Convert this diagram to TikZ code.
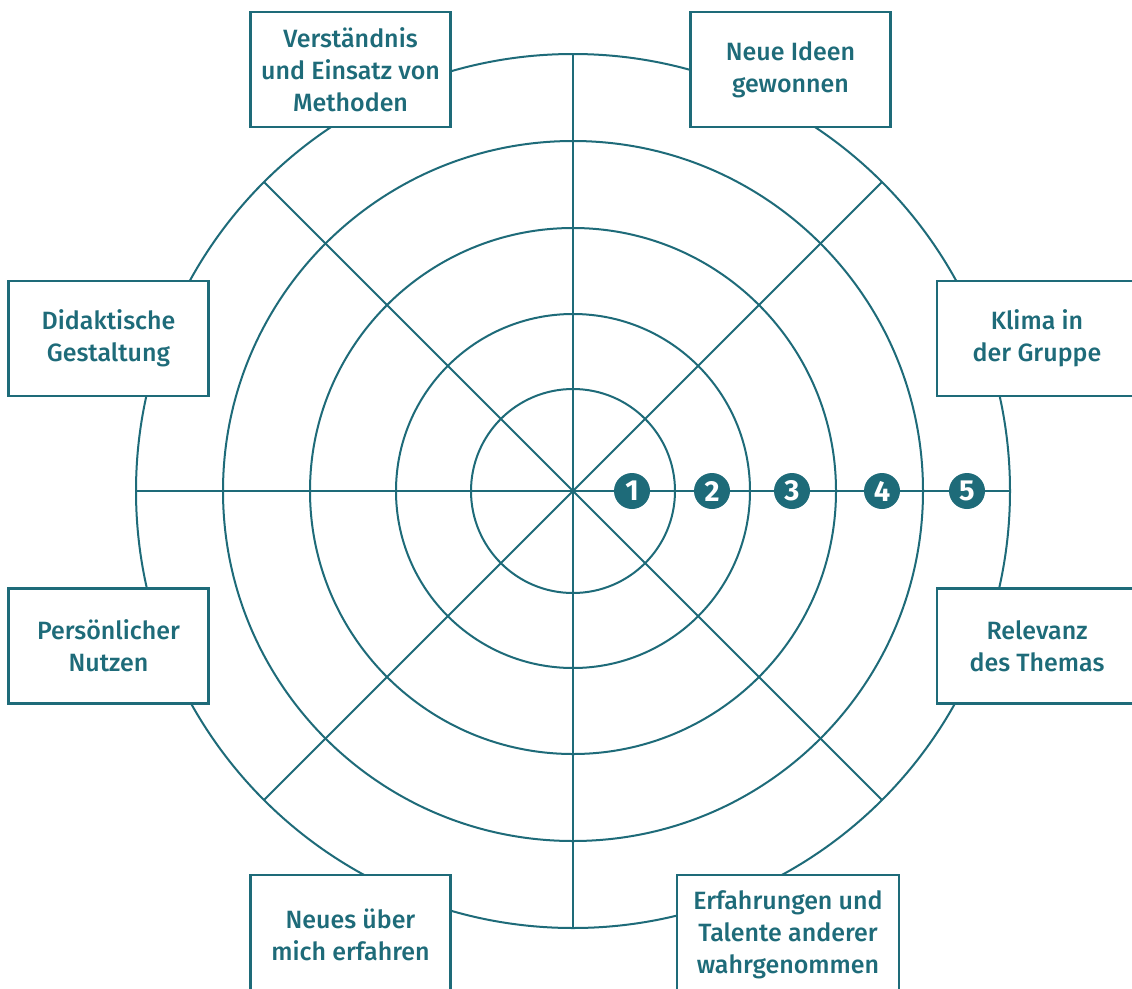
\documentclass[tikz,border=0pt]{standalone}
\usepackage{fontspec}
\IfFontExistsTF{Fira Sans Medium}{\setmainfont{Fira Sans Medium}[BoldFont={Fira Sans Bold}]}{\setmainfont{Fira Sans}}
\definecolor{wheel}{RGB}{30,107,121}
\tikzset{
  ring/.style={draw=wheel, line width=2pt},
  labelbox/.style={draw=wheel, line width=2.4pt, fill=white, text=wheel,
    align=center, inner sep=0pt, minimum width=200pt, minimum height=115pt,
    font=\fontsize{25}{32}\selectfont},
  badge/.style={circle, fill=wheel, text=white, inner sep=0pt,
    minimum size=36pt, font=\bfseries\fontsize{29}{29}\selectfont}
}
\begin{document}
\begin{tikzpicture}[x=1pt,y=-1pt]
\useasboundingbox (0,0) rectangle (1132,988);
\clip (0,0) rectangle (1132,988);
\fill[white] (0,0) rectangle (1132,988);
\coordinate (O) at (573,491);
% concentric rating rings
\foreach \r in {102,177,263,350,437}
  \draw[ring] (O) circle[radius=\r pt];
% eight spokes
\foreach \a in {0,45,...,315}
  \draw[ring] (O) -- ++(\a:437pt);
% criteria boxes
\node[labelbox] (methoden) at (350.5,69.5) {Verständnis\\und Einsatz von\\Methoden};
\node[labelbox] (ideen) at (790.5,69.5) {Neue Ideen\\gewonnen};
\node[labelbox] (didaktik) at (108.5,338.5) {Didaktische\\Gestaltung};
\node[labelbox] (klima) at (1037,338.5) {Klima in\\der Gruppe};
\node[labelbox] (nutzen) at (108.5,646) {Persönlicher\\Nutzen};
\node[labelbox] (relevanz) at (1037,646) {Relevanz\\des Themas};
\node[labelbox, minimum height=120pt] (neues) at (350.5,935) {Neues über\\mich erfahren};
\node[labelbox, minimum width=222pt, minimum height=120pt] (talente) at (788,935) {Erfahrungen und\\Talente anderer\\wahrgenommen};
% scale markers
\node[badge] (s1) at (632,491) {1};
\node[badge] (s2) at (712,491) {2};
\node[badge] (s3) at (792,491) {3};
\node[badge] (s4) at (882,491) {4};
\node[badge] (s5) at (967,491) {5};
\end{tikzpicture}
\end{document}
